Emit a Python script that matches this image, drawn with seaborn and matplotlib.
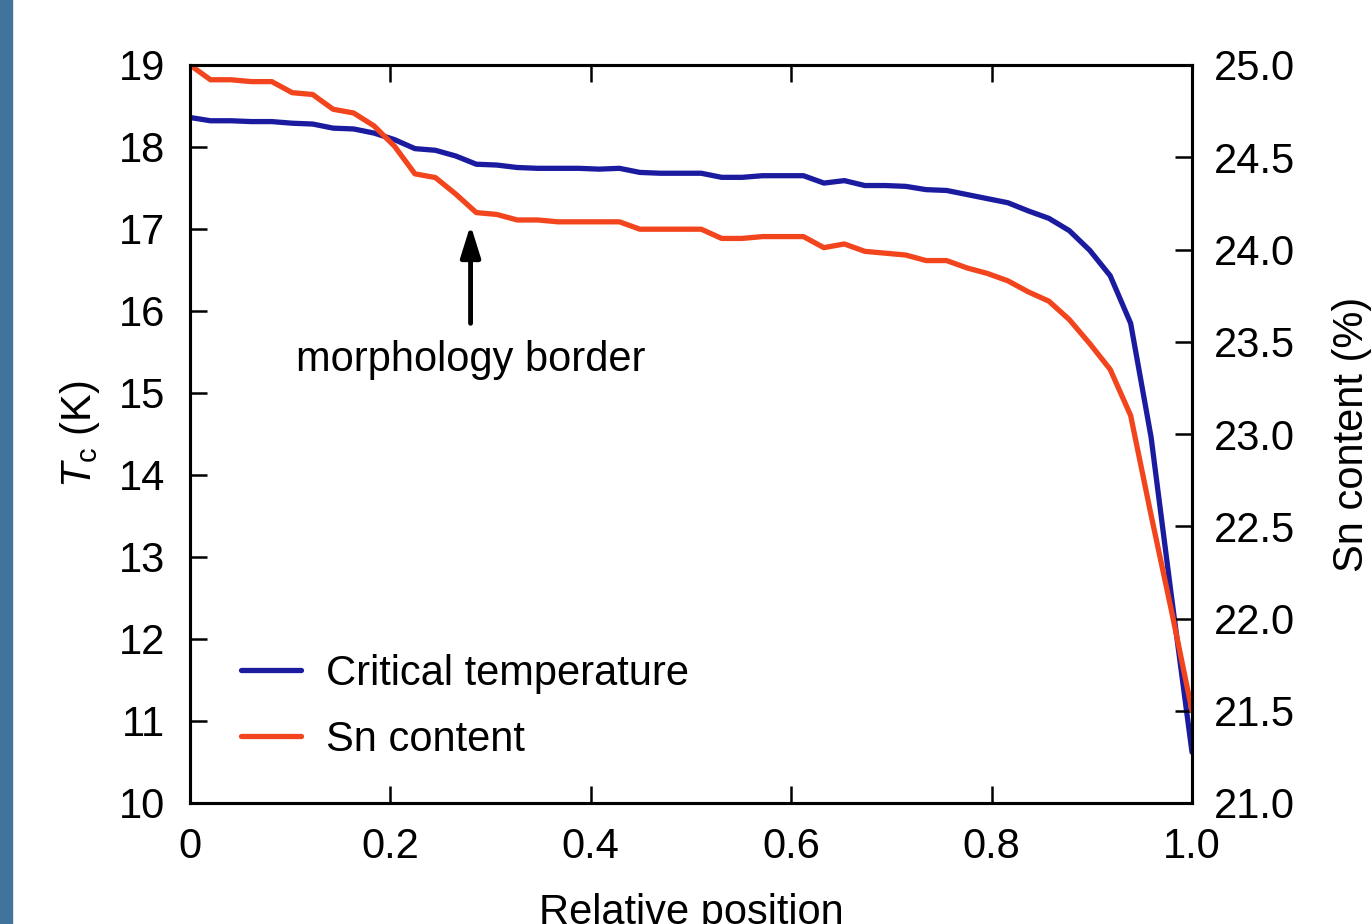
import numpy as np
import pandas as pd
import matplotlib
matplotlib.use("Agg")
import matplotlib.pyplot as plt
import seaborn as sns
from matplotlib.lines import Line2D
from matplotlib.patches import Rectangle

# 50 measurement points along the sample
position = np.linspace(0, 1, 50)

tc_values = [18.36, 18.32, 18.32, 18.31, 18.31, 18.29, 18.28, 18.23, 18.22, 18.17,
             18.09, 17.98, 17.96, 17.89, 17.79, 17.78, 17.75, 17.74, 17.74, 17.74,
             17.73, 17.74, 17.69, 17.68, 17.68, 17.68, 17.63, 17.63, 17.65, 17.65,
             17.65, 17.56, 17.59, 17.53, 17.53, 17.52, 17.48, 17.47, 17.42, 17.37,
             17.32, 17.22, 17.13, 16.98, 16.74, 16.43, 15.85, 14.46, 12.51, 10.62]

sn_values = [25.00, 24.92, 24.92, 24.91, 24.91, 24.85, 24.84, 24.76, 24.74, 24.67,
             24.56, 24.41, 24.39, 24.30, 24.20, 24.19, 24.16, 24.16, 24.15, 24.15,
             24.15, 24.15, 24.11, 24.11, 24.11, 24.11, 24.06, 24.06, 24.07, 24.07,
             24.07, 24.01, 24.03, 23.99, 23.98, 23.97, 23.94, 23.94, 23.90, 23.87,
             23.83, 23.77, 23.72, 23.62, 23.49, 23.35, 23.10, 22.56, 22.04, 21.50]

x_ticks = [0, 0.2, 0.4, 0.6, 0.8, 1.0]
x_ticklabels = ["0", "0.2", "0.4", "0.6", "0.8", "1.0"]
tc_ticks = list(range(10, 20))
sn_ticks = [21.0, 21.5, 22.0, 22.5, 23.0, 23.5, 24.0, 24.5, 25.0]

df = pd.DataFrame({"position": position, "tc": tc_values, "sn": sn_values})

sns.set_theme(style="ticks")
plt.rcParams["font.family"] = ["Liberation Sans", "DejaVu Sans"]
plt.rcParams["mathtext.fontset"] = "custom"
plt.rcParams["mathtext.rm"] = "Liberation Sans"
plt.rcParams["mathtext.it"] = "Liberation Sans:italic"
for key in ["text.color", "axes.labelcolor", "xtick.color", "ytick.color", "axes.edgecolor"]:
    plt.rcParams[key] = "black"

blue = "#1b1b9f"
red = "#f2441d"
fs = 30

fig = plt.figure(figsize=(13.72, 9.24), dpi=100)
ax = fig.add_axes([190 / 1372, 1 - 803 / 924, 1002 / 1372, 738 / 924])
ax2 = ax.twinx()

# steel blue strip on the left edge
fig.patches.append(Rectangle((0, 0), 12 / 1372, 1, transform=fig.transFigure,
                             color="#41739c", zorder=0))

sns.lineplot(data=df, x="position", y="tc", ax=ax, color=blue, linewidth=3.8)
sns.lineplot(data=df, x="position", y="sn", ax=ax2, color=red, linewidth=3.8)

ax.set_xlim(0, 1)
ax.set_ylim(10, 19)
ax2.set_ylim(21, 25)

ax.set_xticks(x_ticks)
ax.set_xticklabels(x_ticklabels)
ax.set_yticks(tc_ticks)
ax2.set_yticks(sn_ticks)
ax2.set_yticklabels([f"{v:.1f}" for v in sn_ticks])

ax.tick_params(axis="both", direction="in", length=12, width=1.8, labelsize=fs,
               top=True, right=False, color="black")
ax.tick_params(axis="x", pad=17)
ax.tick_params(axis="y", pad=18)
ax2.tick_params(axis="y", direction="in", length=12, width=1.8, labelsize=fs, pad=16)

for a in (ax, ax2):
    for s in a.spines.values():
        s.set_linewidth(2.2)
        s.set_color("black")
        s.set_visible(True)

ax.set_xlabel("Relative position", fontsize=fs, labelpad=19)
ax.set_ylabel(r"$T_\mathrm{c}$ (K)", fontsize=fs, labelpad=12)
ax2.set_ylabel("Sn content (%)", fontsize=fs, labelpad=26)

ax.annotate("", xy=(0.28, 17.05), xytext=(0.28, 15.85),
            arrowprops=dict(arrowstyle="-|>,head_length=1.6,head_width=0.5",
                        color="black", lw=3.5, shrinkA=0, shrinkB=0))
ax.text(0.28, 15.4, "morphology border", fontsize=fs, ha="center", va="center")

handles = [Line2D([0], [0], color=blue, lw=3.8), Line2D([0], [0], color=red, lw=3.8)]
ax.legend(handles, ["Critical temperature", "Sn content"], loc="lower left",
          bbox_to_anchor=(0.013, 0.008), frameon=False, fontsize=fs,
          handlelength=1.45, handletextpad=0.6, labelspacing=0.62)

fig.savefig("out.png", dpi=100)
